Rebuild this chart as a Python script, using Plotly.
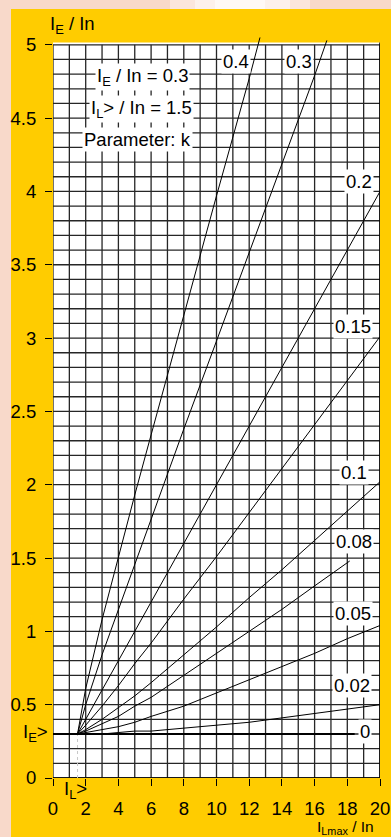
import plotly.graph_objects as go

# ---------------- data ----------------
k_labels = ["0.4", "0.3", "0.2", "0.15", "0.1", "0.08", "0.05", "0.02", "0"]

x_common = [1.5, 2, 3, 4, 5, 6, 8, 10, 12, 14, 16, 18, 20]

x_k04 = [1.5, 2, 3, 4, 5, 6, 8, 10, 12, 12.66]
y_k04 = [0.30, 0.61, 1.08, 1.51, 1.93, 2.34, 3.16, 3.97, 4.77, 5.05]

x_k03 = [1.5, 2, 3, 4, 5, 6, 8, 10, 12, 14, 16, 16.75]
y_k03 = [0.30, 0.50, 0.84, 1.15, 1.46, 1.77, 2.38, 2.98, 3.58, 4.19, 4.79, 5.03]

y_k02 = [0.30, 0.40, 0.60, 0.80, 1.00, 1.20, 1.60, 2.00, 2.40, 2.80, 3.20, 3.60, 4.00]
y_k015 = [0.30, 0.36, 0.49, 0.63, 0.78, 0.92, 1.22, 1.51, 1.81, 2.11, 2.41, 2.71, 3.01]
y_k01 = [0.30, 0.33, 0.40, 0.48, 0.56, 0.65, 0.84, 1.03, 1.23, 1.42, 1.62, 1.82, 2.02]

x_k008 = [1.5, 2, 3, 4, 5, 6, 8, 10, 12, 14, 16, 18, 18.15]
y_k008 = [0.30, 0.32, 0.37, 0.42, 0.49, 0.55, 0.70, 0.85, 1.00, 1.15, 1.31, 1.47, 1.48]

y_k005 = [0.30, 0.31, 0.33, 0.35, 0.38, 0.42, 0.49, 0.58, 0.67, 0.76, 0.85, 0.95, 1.04]
y_k002 = [0.30, 0.30, 0.30, 0.31, 0.32, 0.32, 0.34, 0.36, 0.38, 0.41, 0.44, 0.47, 0.50]

x_k0 = [0, 18.45]
y_k0 = [0.30, 0.30]

IE_set = 0.3   # I_E> / In
IL_set = 1.5   # I_L> / In

x_ticks = list(range(0, 21, 2))
y_ticks = [0, 0.5, 1, 1.5, 2, 2.5, 3, 3.5, 4, 4.5, 5]
y_ticktext = ["0", "0.5", "1", "1.5", "2", "2.5", "3", "3.5", "4", "4.5", "5"]

# label positions (layout)
label_pos = [(11.17, 4.885), (15.06, 4.885), (18.70, 4.07), (18.33, 3.08),
             (18.42, 2.08), (18.39, 1.61), (18.33, 1.122), (18.27, 0.63),
             (19.06, 0.316)]

# ---------------- figure ----------------
W, H = 391, 837
ML, MR, MT, MB = 53, 11, 36, 59
FONT = "Liberation Sans, Arial, sans-serif"
FS = 18.5
YELLOW = "#FFCC00"
PEACH = "#F8D9CA"
GRID = "#262626"

def px2paper(px, py):
    pw = W - ML - MR
    ph = H - MT - MB
    return (px - ML) / pw, (H - MB - py) / ph

fig = go.Figure()

series = [
    (x_k04, y_k04), (x_k03, y_k03), (x_common, y_k02), (x_common, y_k015),
    (x_common, y_k01), (x_k008, y_k008), (x_common, y_k005), (x_common, y_k002),
]
for (xs, ys), lab in zip(series, k_labels[:-1]):
    fig.add_trace(go.Scatter(x=xs, y=ys, mode="lines", name="k=" + lab,
                             line=dict(color="black", width=1), hoverinfo="skip"))
fig.add_trace(go.Scatter(x=x_k0, y=y_k0, mode="lines", name="k=0",
                         line=dict(color="black", width=2.2), hoverinfo="skip"))

shapes = []
# white plotting area
shapes.append(dict(type="rect", xref="x", yref="y", x0=0, x1=20, y0=0, y1=5.016,
                   fillcolor="white", line=dict(width=0), layer="below"))
# grid
for i in range(0, 21):
    shapes.append(dict(type="line", xref="x", yref="y", x0=i, x1=i, y0=0, y1=5,
                       line=dict(color=GRID, width=1.3), layer="below"))
for j in range(0, 51):
    yv = j / 10
    shapes.append(dict(type="line", xref="x", yref="y", x0=0, x1=20, y0=yv, y1=yv,
                       line=dict(color=GRID, width=1.3), layer="below"))
# borders
shapes.append(dict(type="line", xref="x", yref="y", x0=20, x1=20, y0=0, y1=5.016,
                   line=dict(color="black", width=1.5), layer="below"))
shapes.append(dict(type="line", xref="x", yref="y", x0=0, x1=20, y0=0, y1=0,
                   line=dict(color="black", width=1.5), layer="below"))
# dotted guide at I_L>
shapes.append(dict(type="line", xref="x", yref="y", x0=IL_set, x1=IL_set, y0=0, y1=IE_set,
                   line=dict(color="#c8c8c8", width=1, dash="dot"), layer="below"))

# peach page margins
x0p, y0p = px2paper(0, 0)
x11, _ = px2paper(11, 0)
xr, yb = px2paper(W, H)
_, y9 = px2paper(0, 9)
shapes.append(dict(type="rect", xref="paper", yref="paper", x0=x0p, x1=x11, y0=yb, y1=y0p,
                   fillcolor=PEACH, line=dict(width=0), layer="below"))
shapes.append(dict(type="rect", xref="paper", yref="paper", x0=x0p, x1=xr, y0=y9, y1=y0p,
                   fillcolor=PEACH, line=dict(width=0), layer="below"))
for (a, b, c) in [(170, 310, "#FBE6DC"), (195, 290, "#FDF1EB"), (215, 265, "#FFF9F6")]:
    xa, _ = px2paper(a, 0)
    xb, _ = px2paper(b, 0)
    shapes.append(dict(type="rect", xref="paper", yref="paper", x0=xa, x1=xb, y0=y9, y1=y0p,
                       fillcolor=c, line=dict(width=0), layer="below"))

annotations = []
for lab, (ax, ay) in zip(k_labels, label_pos):
    annotations.append(dict(x=ax, y=ay, xref="x", yref="y", text=lab, showarrow=False,
                            font=dict(family=FONT, size=FS, color="black"),
                            bgcolor="white", borderpad=1, xanchor="center", yanchor="middle"))

info_lines = [("I<sub>E</sub> / In = 0.3", 5.49, 4.78),
              ("I<sub>L</sub>&gt; / In = 1.5", 5.43, 4.565),
              ("Parameter: k", 5.18, 4.357)]
for t, ax, ay in info_lines:
    annotations.append(dict(x=ax, y=ay, xref="x", yref="y", text=t, showarrow=False,
                            font=dict(family=FONT, size=FS, color="black"),
                            bgcolor="white", borderpad=1, xanchor="center", yanchor="middle"))

# texts outside the plotting area -> paper coordinates
outside = [("I<sub>E</sub> / In", 49, 25, "left", "middle", FS),
           ("I<sub>Lmax</sub> / In", 345, 838, "center", "bottom", 15.5),
           ("I<sub>E</sub>&gt;", 35, 733, "center", "middle", FS),
           ("I<sub>L</sub>&gt;", 75, 790, "center", "middle", FS)]
for t, px, py, anc, vanc, fs in outside:
    pxp, pyp = px2paper(px, py)
    annotations.append(dict(x=pxp, y=pyp, xref="paper", yref="paper", text=t,
                            showarrow=False, xanchor=anc, yanchor=vanc, borderpad=0,
                            font=dict(family=FONT, size=fs, color="black")))

fig.update_layout(
    width=W, height=H,
    margin=dict(l=ML, r=MR, t=MT, b=MB, pad=0),
    paper_bgcolor=YELLOW, plot_bgcolor=YELLOW,
    showlegend=False,
    shapes=shapes, annotations=annotations,
    font=dict(family=FONT, size=FS, color="black"),
    xaxis=dict(range=[0, 20], tickvals=x_ticks, ticks="outside", ticklen=7, tickwidth=1,
               tickcolor="black", showgrid=False, zeroline=False, showline=False,
               tickfont=dict(family=FONT, size=FS, color="black"), ticklabelstandoff=7,
               fixedrange=True, automargin=False),
    yaxis=dict(range=[0, 5.06], tickvals=y_ticks, ticktext=y_ticktext, ticks="outside",
               ticklen=7, tickwidth=1, tickcolor="black", showgrid=False, zeroline=False,
               showline=False, tickfont=dict(family=FONT, size=FS, color="black"),
               ticklabelstandoff=5, fixedrange=True, automargin=False),
)

fig.write_html(
    "out.html",
    config={"displayModeBar": False, "responsive": False},
    post_script="document.body.style.margin='0';document.body.style.padding='0';"
                "document.documentElement.style.margin='0';",
)
